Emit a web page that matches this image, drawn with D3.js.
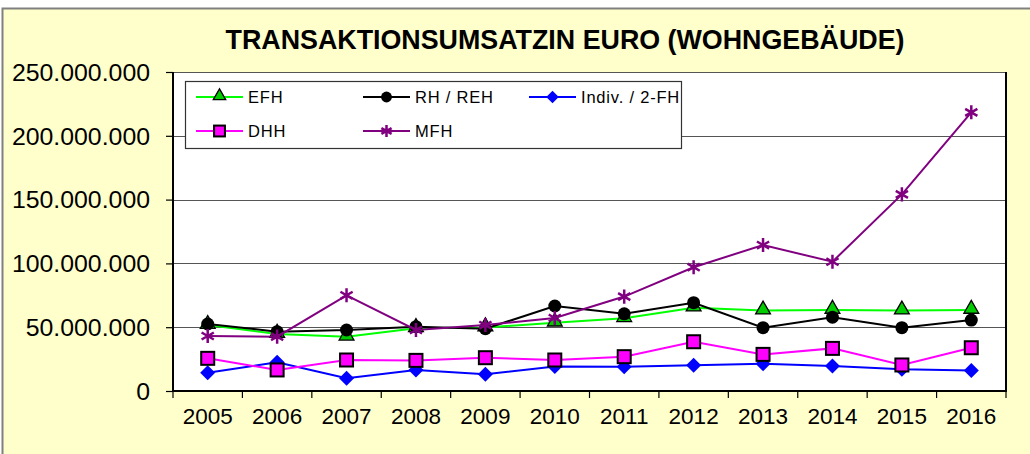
<!DOCTYPE html>
<html>
<head>
<meta charset="utf-8">
<script src="https://cdn.jsdelivr.net/npm/d3@7"></script>
<style>
  body { margin: 0; background: #fff; }
  svg { display: block; }
  text { font-family: "Liberation Sans", Arial, sans-serif; fill: #000; }
</style>
</head>
<body>
<svg id="chart" width="1030" height="454"></svg>
<script>
// data
var years = ["2005","2006","2007","2008","2009","2010","2011","2012","2013","2014","2015","2016"];
var efh   = [51.7, 44.7, 42.5, 49.2, 49.8, 53.5, 57.0, 65.3, 63.0, 63.5, 63.0, 63.5];
var rhReh = [52.5, 46.5, 47.8, 50.4, 48.8, 66.6, 60.5, 69.2, 49.6, 57.8, 49.6, 55.6];
var indiv = [14.3, 22.5, 10.0, 16.5, 13.2, 19.2, 19.0, 20.1, 21.4, 19.6, 17.0, 16.0];
var dhh   = [25.6, 16.5, 24.3, 24.0, 26.1, 24.3, 26.9, 38.6, 28.7, 33.4, 20.4, 33.9];
var mfh   = [43.1, 42.6, 75.0, 47.8, 51.7, 57.2, 74.0, 97.0, 114.4, 101.3, 154.1, 218.4];
var yTicks = [0, 50e6, 100e6, 150e6, 200e6, 250e6];

var series = [
  {name: "EFH", values: efh, color: "#00ff00", marker: "triangle", fill: "#00cc00"},
  {name: "RH / REH", values: rhReh, color: "#000000", marker: "circle", fill: "#000000"},
  {name: "Indiv. / 2-FH", values: indiv, color: "#0000ff", marker: "diamond", fill: "#0000ff"},
  {name: "DHH", values: dhh, color: "#ff00ff", marker: "square", fill: "#ff00ff"},
  {name: "MFH", values: mfh, color: "#800080", marker: "star", fill: "#800080"}
];

var svg = d3.select("#chart");
var pLeft = 173, pRight = 1006, pTop = 72, pBottom = 391;

// outer frame
svg.append("rect").attr("x", 2.5).attr("y", 8.5).attr("width", 1040).attr("height", 460)
    .attr("fill", "#ffffcc").attr("stroke", "#808080").attr("stroke-width", 2);

svg.append("text")
    .attr("x", 565).attr("y", 49)
    .attr("text-anchor", "middle")
    .attr("textLength", 679).attr("lengthAdjust", "spacingAndGlyphs")
    .style("font-family", "'Liberation Sans Narrow', 'Liberation Sans', Arial, sans-serif")
    .style("font-size", "28px").style("font-weight", "bold")
    .text("TRANSAKTIONSUMSATZIN EURO (WOHNGEBÄUDE)");

var x = d3.scaleBand().domain(years).range([pLeft, pRight]);
var y = d3.scaleLinear().domain([0, 250e6]).range([pBottom, pTop]);

var de = d3.formatLocale({decimal: ",", thousands: ".", grouping: [3], currency: ["", " €"]});
var fmt = de.format(",d");

// plot area
svg.append("rect").attr("x", pLeft).attr("y", pTop).attr("width", pRight - pLeft).attr("height", pBottom - pTop)
    .attr("fill", "#fff");

// gridlines
svg.append("g").selectAll("line")
    .data(yTicks.slice(1))
  .enter().append("line")
    .attr("x1", pLeft).attr("x2", pRight)
    .attr("y1", function(d) { return Math.round(y(d)) + 0.5; })
    .attr("y2", function(d) { return Math.round(y(d)) + 0.5; })
    .attr("stroke", "#555").attr("stroke-width", 1.2);

// frame of plot area
svg.append("path")
    .attr("d", "M" + pLeft + "," + pTop + "V" + pBottom + "H" + pRight + "V" + pTop)
    .attr("fill", "none").attr("stroke", "#000").attr("stroke-width", 2);

// y axis
var yAxis = svg.append("g")
    .attr("transform", "translate(" + pLeft + ",0)")
    .call(d3.axisLeft(y).tickValues(yTicks).tickFormat(fmt).tickSize(7).tickPadding(16));
yAxis.select(".domain").remove();
yAxis.selectAll("line").attr("stroke", "#000").attr("stroke-width", 1.2);
yAxis.selectAll("text").style("font-size", "23px").style("font-family", "'Liberation Sans', Arial, sans-serif")
    .attr("fill", "#000").attr("dy", "0.36em")
    .attr("textLength", function() { return this.getComputedTextLength() * 1.08; })
    .attr("lengthAdjust", "spacingAndGlyphs");

// x axis: labels in bands, ticks on band edges
var xAxis = svg.append("g")
    .attr("transform", "translate(0," + pBottom + ")")
    .call(d3.axisBottom(x).tickSize(0).tickPadding(17));
xAxis.select(".domain").remove();
xAxis.selectAll("text").style("font-size", "22.5px").style("font-family", "'Liberation Sans', Arial, sans-serif")
    .attr("fill", "#000");
svg.append("g").selectAll("line")
    .data(years.concat(["end"]))
  .enter().append("line")
    .attr("x1", function(d, i) { return i < years.length ? x(d) : pRight; })
    .attr("x2", function(d, i) { return i < years.length ? x(d) : pRight; })
    .attr("y1", pBottom).attr("y2", pBottom + 7)
    .attr("stroke", "#000").attr("stroke-width", 1.2);

var line = d3.line()
    .x(function(d, i) { return x(years[i]) + x.bandwidth() / 2; })
    .y(function(d) { return y(d * 1e6); });

function marker(g, type, fill, cx, cy, k) {
  k = k || 1;
  if (type === "triangle") {
    g.append("path").attr("d", d3.symbol(d3.symbolTriangle, 95 * k)())
      .attr("transform", "translate(" + cx + "," + (cy - 1) + ")")
      .attr("fill", fill).attr("stroke", "#000").attr("stroke-width", 1.3);
  } else if (type === "circle") {
    g.append("circle").attr("cx", cx).attr("cy", cy).attr("r", 6.5 * Math.sqrt(k)).attr("fill", fill);
  } else if (type === "diamond") {
    var d = 7.5 * Math.sqrt(k);
    g.append("path").attr("d", "M0," + (-d) + "L" + d + ",0L0," + d + "L" + (-d) + ",0Z")
      .attr("transform", "translate(" + cx + "," + cy + ")")
      .attr("fill", fill);
  } else if (type === "square") {
    var h = 6.5 * Math.sqrt(k);
    g.append("rect").attr("x", cx - h).attr("y", cy - h).attr("width", 2 * h).attr("height", 2 * h)
      .attr("fill", fill).attr("stroke", "#000").attr("stroke-width", 2);
  } else if (type === "star") {
    g.append("path").attr("d", d3.symbol(d3.symbolAsterisk, 140 * k)())
      .attr("transform", "translate(" + cx + "," + cy + ")")
      .attr("fill", "none").attr("stroke", fill).attr("stroke-width", 2.5);
  }
}

series.forEach(function(s) {
  var g = svg.append("g");
  g.append("path").datum(s.values)
    .attr("d", line)
    .attr("fill", "none").attr("stroke", s.color).attr("stroke-width", 2);
  s.values.forEach(function(v, i) {
    marker(g, s.marker, s.fill, x(years[i]) + x.bandwidth() / 2, y(v * 1e6));
  });
});

// legend
var legend = svg.append("g");
legend.append("rect").attr("x", 185.5).attr("y", 81.5).attr("width", 496).attr("height", 67)
    .attr("fill", "#fff").attr("stroke", "#333").attr("stroke-width", 1.2);
var colX = [196, 363, 529], rowY = [97, 131];
series.forEach(function(s, i) {
  var lx = colX[i % 3], ly = rowY[Math.floor(i / 3)];
  legend.append("line").attr("x1", lx).attr("x2", lx + 47).attr("y1", ly).attr("y2", ly)
    .attr("stroke", s.color).attr("stroke-width", 2);
  marker(legend, s.marker, s.fill, lx + 23.5, ly, 0.7);
  legend.append("text").attr("x", lx + 52).attr("y", ly).attr("dy", "0.36em")
    .style("font-size", "16.5px").style("letter-spacing", "0.8px").text(s.name);
});
</script>
</body>
</html>
